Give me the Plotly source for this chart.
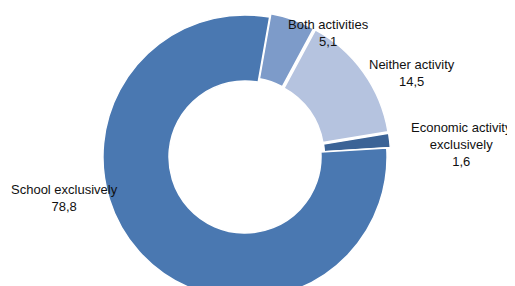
import plotly.graph_objects as go

labels = ["Both activities", "Neither activity", "Economic activity exclusively", "School exclusively"]
label_text = ["Both activities", "Neither activity", "Economic activity<br>exclusively", "School exclusively"]
values = [5.1, 14.5, 1.6, 78.8]
colors = ["#7D9BC9", "#B5C3DF", "#3B6396", "#4A78B1"]
pulls = [0.025, 0.025, 0.025, 0.0]

W, H = 515, 310
OFF = 8  # page offset of the plot div (body margin)

def px(x):
    return (x - OFF) / W

def py(y):
    return 1 - (y - OFF) / H

# label anchor positions (screen px)
label_sx = [328, 411.5, 461, 64]
label_sy = [33, 73, 144.5, 198]

cx, cy, half = 245, 157, 145.6
fig = go.Figure(
    go.Pie(
        labels=labels,
        values=values,
        sort=False,
        direction="clockwise",
        rotation=10,
        hole=0.535,
        pull=pulls,
        marker=dict(colors=colors, line=dict(color="white", width=1.5)),
        textinfo="none",
        hoverinfo="label+value",
        domain=dict(x=[px(cx - half), px(cx + half)], y=[py(cy + half), py(cy - half)]),
        showlegend=False,
    )
)

for t, v, x, y in zip(label_text, values, label_sx, label_sy):
    fig.add_annotation(
        x=px(x), y=py(y), xref="paper", yref="paper",
        text=f"{t}<br>{v:.1f}".replace(".", ","),
        showarrow=False, xanchor="center", yanchor="middle",
        font=dict(family="Liberation Sans, Arial", size=13, color="#111111"),
    )

fig.update_layout(
    width=W, height=H,
    margin=dict(l=0, r=0, t=0, b=0),
    paper_bgcolor="white", plot_bgcolor="white",
)

fig.write_html("out.html")
